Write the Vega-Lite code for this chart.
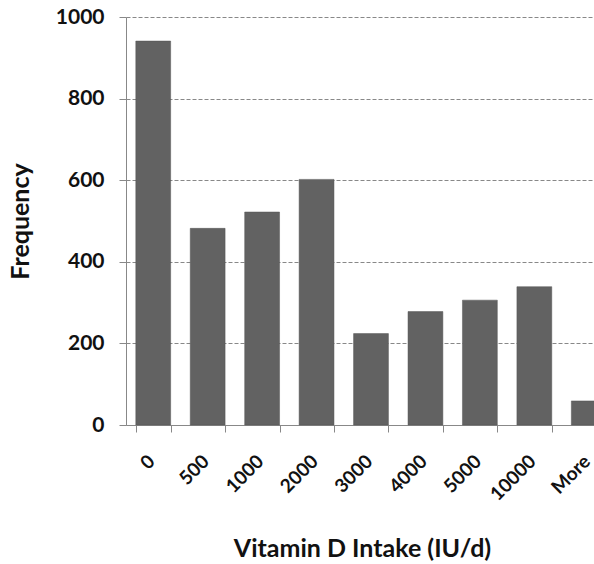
{
  "$schema": "https://vega.github.io/schema/vega-lite/v6.json",
  "autosize": "none",
  "width": 468,
  "height": 408,
  "padding": {"left": 126, "top": 17, "right": 0, "bottom": 139},
  "background": "white",
  "config": {"view": {"stroke": null}, "font": "Lato"},
  "data": {"values": [
    {"bin": "0", "freq": 941},
    {"bin": "500", "freq": 482},
    {"bin": "1000", "freq": 522},
    {"bin": "2000", "freq": 602},
    {"bin": "3000", "freq": 224},
    {"bin": "4000", "freq": 278},
    {"bin": "5000", "freq": 306},
    {"bin": "10000", "freq": 339},
    {"bin": "More", "freq": 59}
  ]},
  "mark": {"type": "bar", "color": "#626262", "stroke": "#555555", "strokeWidth": 0.5},
  "encoding": {
    "x": {
      "field": "bin", "type": "nominal", "sort": null,
      "scale": {"range": [0, 490], "paddingInner": 0.36, "paddingOuter": 0.18},
      "axis": {
        "title": "Vitamin D Intake (IU/d)",
        "titleFont": "Lato", "titleFontSize": 25, "titleFontWeight": "bold", "titleColor": "#111",
        "titleX": 236, "titleY": 123, "titleAnchor": "middle", "titleBaseline": "middle",
        "labelAngle": -45, "labelAlign": "right", "labelBaseline": "middle",
        "labelFont": "Lato", "labelFontSize": 19, "labelFontWeight": "bold", "labelColor": "#111",
        "labelPadding": 26, "labelOffset": -2,
        "tickBand": "extent", "tickSize": 7, "tickColor": "#888", "domainColor": "#888",
        "grid": false
      }
    },
    "y": {
      "field": "freq", "type": "quantitative",
      "scale": {"domain": [0, 1000]},
      "axis": {
        "title": "Frequency", "values": [0, 200, 400, 600, 800, 1000], "format": "d",
        "titleFont": "Lato", "titleFontSize": 25, "titleFontWeight": "bold", "titleColor": "#111",
        "titleX": -106, "titleY": 204, "titleAnchor": "middle", "titleBaseline": "middle",
        "labelFont": "Lato", "labelFontSize": 21, "labelFontWeight": "bold", "labelColor": "#111",
        "labelPadding": 15, "tickSize": 7, "tickColor": "#888", "domainColor": "#888",
        "grid": true, "gridColor": "#888", "gridDash": [4, 2], "gridWidth": 1
      }
    }
  }
}
